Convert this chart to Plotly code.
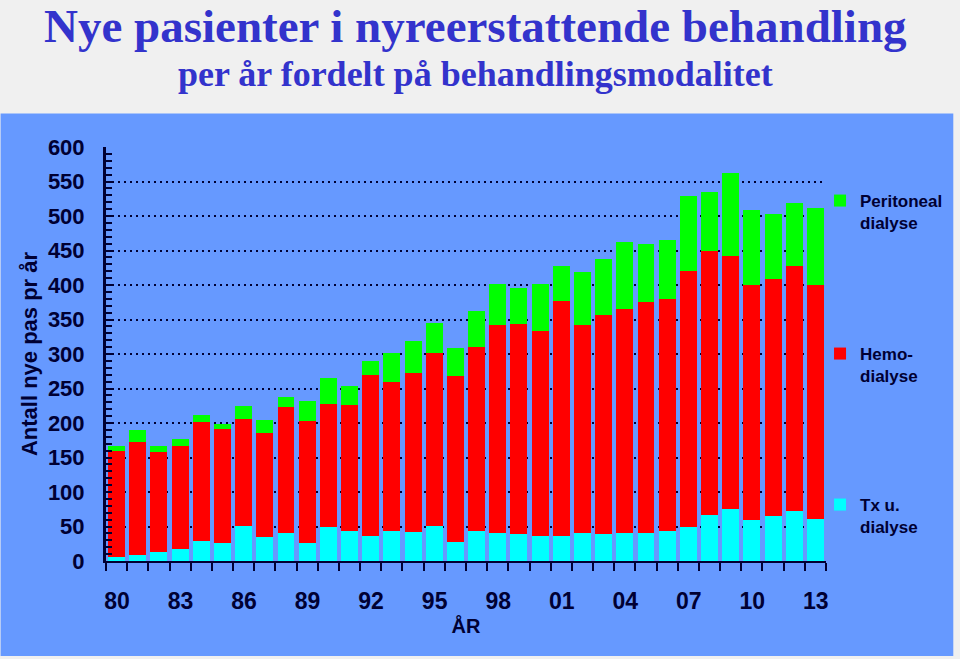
import plotly.graph_objects as go

years = list(range(1980, 2014))
tx_u_dialyse = [6, 9, 13, 18, 29, 26, 51, 35, 40, 26, 49, 44, 36, 44, 42, 51, 28, 44,
                40, 39, 36, 36, 40, 39, 41, 40, 44, 50, 66, 76, 59, 65, 73, 61]
hemodialyse = [153, 164, 145, 148, 173, 165, 155, 151, 183, 177, 178, 182, 233, 216, 231, 250, 240, 266,
               302, 305, 297, 341, 302, 318, 324, 335, 335, 371, 383, 366, 341, 344, 354, 339]
peritoneal = [7, 17, 9, 11, 10, 7, 19, 19, 14, 29, 38, 28, 21, 42, 46, 44, 41, 52,
              59, 52, 69, 50, 77, 80, 97, 84, 86, 108, 86, 120, 109, 94, 92, 111]
tick_years = list(range(1980, 2014, 3))
tick_labels = [f"{y % 100:02d}" for y in tick_years]
x_range = [years[0] - 0.5, years[-1] + 0.5]

# tick marks sit on the category boundaries (left edge of each bar, plus the final right edge);
# the year label belongs to the bar starting at that boundary and is shifted half a bar to the right
label_of = dict(zip(tick_years, tick_labels))
boundary_vals = [y - 0.5 for y in years] + [years[-1] + 0.5]
boundary_text = [label_of.get(y, "") for y in years] + [""]

BLUE = "#6699ff"
INK = "#000033"

fig = go.Figure()
fig.add_trace(go.Bar(x=years, y=tx_u_dialyse, name="Tx u.<br>dialyse",
                     marker=dict(color="#00ffff", line=dict(width=0)), legend="legend3"))
fig.add_trace(go.Bar(x=years, y=hemodialyse, name="Hemo-<br>dialyse",
                     marker=dict(color="#ff0000", line=dict(width=0)), legend="legend2"))
fig.add_trace(go.Bar(x=years, y=peritoneal, name="Peritoneal<br>dialyse",
                     marker=dict(color="#00ff00", line=dict(width=0)), legend="legend"))

W, H = 960, 659
ml, mr, mt, mb = 106, 130, 147, 98
pw, ph = W - ml - mr, H - mt - mb
half_bar_px = int(round(pw / (x_range[1] - x_range[0]) / 2))

def px_x(x):
    return (x - ml) / pw

def px_y(y):
    return (H - mb - y) / ph

legend_font = dict(family="Liberation Sans, Arial, sans-serif", size=17, color=INK, weight="bold")
def leg(top_px):
    return dict(x=px_x(824), y=px_y(top_px), xanchor="left", yanchor="top",
                bgcolor="rgba(0,0,0,0)", font=legend_font, valign="top",
                itemclick=False, itemdoubleclick=False)

fig.update_layout(
    width=W, height=H,
    margin=dict(l=ml, r=mr, t=mt, b=mb),
    paper_bgcolor="#f0f0f0",
    plot_bgcolor=BLUE,
    barmode="stack",
    bargap=0.2,
    showlegend=True,
    legend=leg(183),
    legend2=leg(336),
    legend3=leg(487),
    font=dict(family="Liberation Sans, Arial, sans-serif", color=INK),
    shapes=[dict(type="rect", xref="paper", yref="paper",
                 x0=px_x(0), x1=px_x(958), y0=px_y(656), y1=px_y(113.5),
                 fillcolor=BLUE, line=dict(width=0), layer="below")],
    annotations=[
        dict(text="<b>Nye pasienter i nyreerstattende behandling</b>", xref="paper", yref="paper",
             x=px_x(478), y=px_y(26), xanchor="center", yanchor="middle", showarrow=False,
             font=dict(family="Liberation Serif, Times New Roman, serif", size=47, color="#3333cc")),
        dict(text="<b>per år fordelt på behandlingsmodalitet</b>", xref="paper", yref="paper",
             x=px_x(478), y=px_y(74), xanchor="center", yanchor="middle", showarrow=False,
             font=dict(family="Liberation Serif, Times New Roman, serif", size=36, color="#3333cc")),
    ],
    xaxis=dict(
        range=x_range,
        tickmode="array", tickvals=boundary_vals, ticktext=boundary_text,
        ticklabelshift=half_bar_px,
        ticks="outside", ticklen=8, tickwidth=1.5, tickcolor=INK,
        ticklabelstandoff=10,
        tickfont=dict(size=23, family="Liberation Sans, Arial, sans-serif", color=INK, weight="bold"),
        showline=True, linewidth=2, linecolor=INK, showgrid=False, zeroline=False,
        title=dict(text="<b>ÅR</b>", font=dict(size=20, color=INK), standoff=6),
    ),
)

fig.update_yaxes(
    range=[0, 600], dtick=50, tick0=0,
    ticks="inside", ticklen=6, tickwidth=2, tickcolor=INK, ticklabelstandoff=14,
    tickfont=dict(size=22, family="Liberation Sans, Arial, sans-serif", color=INK, weight="bold"),
    minor=dict(ticks="inside", dtick=10, ticklen=6, tickwidth=2, tickcolor=INK, showgrid=False),
    showline=True, linewidth=3, linecolor=INK,
    showgrid=True, gridcolor=INK, gridwidth=1.5, griddash="2px,4px", zeroline=False,
    title=dict(text="<b>Antall nye pas pr år</b>", font=dict(size=22, color=INK), standoff=5),
)

fig.write_html("out.html")
